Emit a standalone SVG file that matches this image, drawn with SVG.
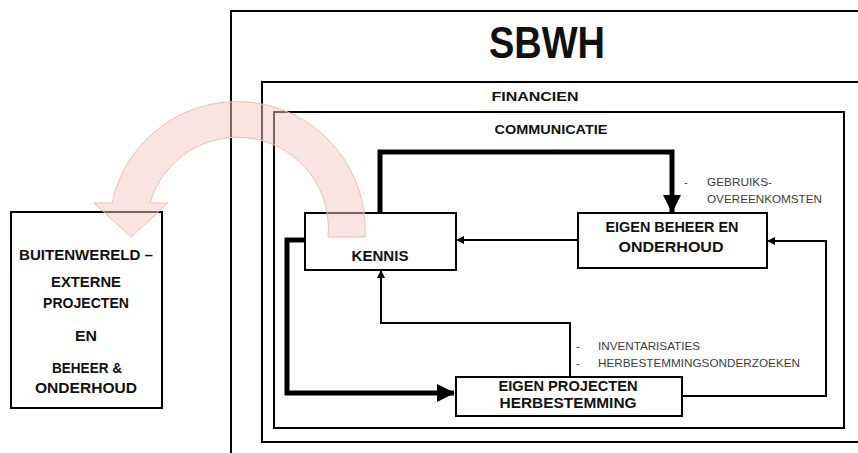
<svg xmlns="http://www.w3.org/2000/svg" width="858" height="453" viewBox="0 0 858 453">
  <style>
    .frame { fill: none; stroke: #000; stroke-width: 2; }
    .box { fill: #fff; stroke: #000; stroke-width: 2; }
    .thick { fill: none; stroke: #000; stroke-width: 5; }
    .thin { fill: none; stroke: #000; stroke-width: 2; }
    .t { font-family: "Liberation Sans", Arial, sans-serif; font-weight: bold; fill: #111; text-anchor: middle; }
    .note { font-family: "Liberation Sans", Arial, sans-serif; font-size: 11.5px; fill: #3c3c3c; }
    .pink { fill: #f4c9c6; fill-opacity: 0.5; stroke: #eebfae; stroke-width: 1; }
  </style>
  <defs>
    <marker id="bigHead" markerUnits="userSpaceOnUse" markerWidth="18" markerHeight="18" refX="17" refY="9" orient="auto">
      <path d="M0,0 L18,9 L0,18 Z" fill="#000"/>
    </marker>
    <marker id="smallHead" markerUnits="userSpaceOnUse" markerWidth="8" markerHeight="8" refX="7" refY="4" orient="auto">
      <path d="M0,0 L8,4 L0,8 Z" fill="#000"/>
    </marker>
  </defs>
  <rect width="858" height="453" fill="#fff"/>

  <g id="sbwh">
    <rect class="frame" x="231" y="11" width="700" height="500"/>
    <text class="t" x="547" y="58" font-size="44" textLength="116" lengthAdjust="spacingAndGlyphs">SBWH</text>
  </g>
  <g id="financien">
    <rect class="frame" x="262" y="82" width="700" height="360"/>
    <text class="t" x="535" y="101" font-size="13" textLength="87" lengthAdjust="spacingAndGlyphs">FINANCIEN</text>
  </g>
  <g id="communicatie">
    <rect class="frame" x="274" y="112" width="570" height="316"/>
    <text class="t" x="551" y="134" font-size="13" textLength="113" lengthAdjust="spacingAndGlyphs">COMMUNICATIE</text>
  </g>

  <g id="connectors">
    <polyline class="thick" points="380,213 380,152 672,152 672,212" marker-end="url(#bigHead)"/>
    <polyline class="thick" points="305,240 287,240 287,393 454,393" marker-end="url(#bigHead)"/>
    <line class="thin" x1="578" y1="240" x2="457" y2="240" marker-end="url(#smallHead)"/>
    <polyline class="thin" points="570,377 570,323 381,323 381,271" marker-end="url(#smallHead)"/>
    <polyline class="thin" points="682,396 826,396 826,241 768,241" marker-end="url(#smallHead)"/>
  </g>

  <g id="kennis">
    <rect class="box" x="305" y="213" width="151" height="57"/>
    <text class="t" x="380" y="261" font-size="15" textLength="57" lengthAdjust="spacingAndGlyphs">KENNIS</text>
  </g>
  <g id="eigen-beheer">
    <rect class="box" x="578" y="213" width="189" height="55"/>
    <text class="t" x="672" y="232" font-size="15" textLength="133" lengthAdjust="spacingAndGlyphs">EIGEN BEHEER EN</text>
    <text class="t" x="671" y="252" font-size="15" textLength="105" lengthAdjust="spacingAndGlyphs">ONDERHOUD</text>
  </g>
  <g id="eigen-projecten">
    <rect class="box" x="456" y="377" width="226" height="39"/>
    <text class="t" x="568" y="391" font-size="14" textLength="139" lengthAdjust="spacingAndGlyphs">EIGEN PROJECTEN</text>
    <text class="t" x="568" y="408" font-size="14" textLength="137" lengthAdjust="spacingAndGlyphs">HERBESTEMMING</text>
  </g>
  <g id="buitenwereld">
    <rect class="box" x="11" y="212" width="151" height="196"/>
    <text class="t" x="86" y="260" font-size="14" textLength="134" lengthAdjust="spacingAndGlyphs">BUITENWERELD –</text>
    <text class="t" x="86" y="287" font-size="14" textLength="70" lengthAdjust="spacingAndGlyphs">EXTERNE</text>
    <text class="t" x="86" y="308" font-size="14" textLength="86" lengthAdjust="spacingAndGlyphs">PROJECTEN</text>
    <text class="t" x="86" y="341" font-size="14" textLength="22" lengthAdjust="spacingAndGlyphs">EN</text>
    <text class="t" x="87" y="373" font-size="14" textLength="70" lengthAdjust="spacingAndGlyphs">BEHEER &amp;</text>
    <text class="t" x="86" y="393" font-size="14" textLength="102" lengthAdjust="spacingAndGlyphs">ONDERHOUD</text>
  </g>

  <g id="notes">
    <text class="note" x="684" y="186">-</text>
    <text class="note" x="707" y="186" textLength="65" lengthAdjust="spacingAndGlyphs">GEBRUIKS-</text>
    <text class="note" x="707" y="203" textLength="115" lengthAdjust="spacingAndGlyphs">OVEREENKOMSTEN</text>
    <text class="note" x="576" y="350">-</text>
    <text class="note" x="598" y="350" textLength="102" lengthAdjust="spacingAndGlyphs">INVENTARISATIES</text>
    <text class="note" x="576" y="367">-</text>
    <text class="note" x="598" y="367" textLength="202" lengthAdjust="spacingAndGlyphs">HERBESTEMMINGSONDERZOEKEN</text>
  </g>

  <g id="pink-arrow">
    <path class="pink" d="M365,237 A128,128 0 0,0 112,203 L94,203 L131,237 L168,203 L150,203 A91,91 0 0,1 328,237 Z"/>
  </g>
</svg>
